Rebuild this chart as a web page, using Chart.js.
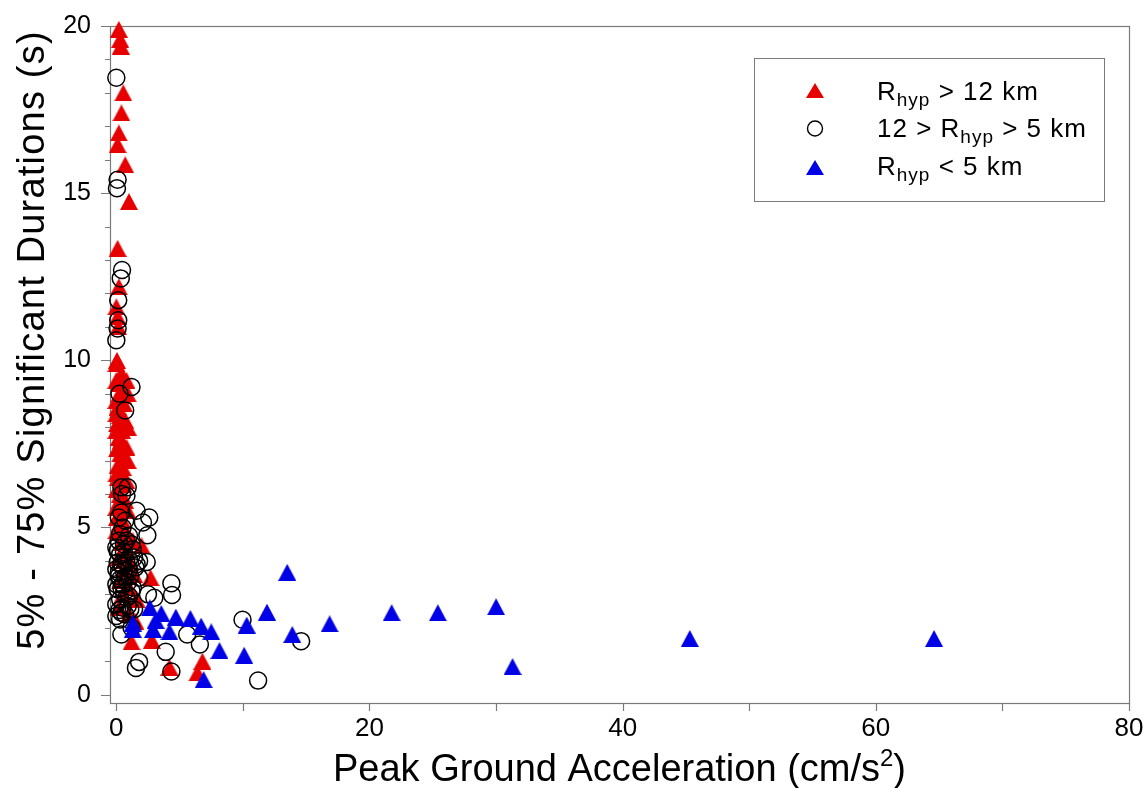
<!DOCTYPE html>
<html>
<head>
<meta charset="utf-8">
<script src="https://cdn.jsdelivr.net/npm/chart.js@4"></script>
<style>
  html, body { margin: 0; padding: 0; background: #fff; }
</style>
</head>
<body>
<canvas id="chart" width="1147" height="788"></canvas>
<script>
// Data
const farX  = [0.2, 0.3, 0.35, 0.55, 0.4, 0.2, 0.1, 0.7, 1.0, 0.1, 0.2, 0.0, 0.1, 0.15, 0.05, 0.4, 0.8, 0.2, 0.5, 0.6,
               0.1, 0.3, 0.05, 0.45, 0.2, 0.5, 0.05, 0.3, 0.6, 0.1, 0.35, 0.15, 0.55, 0.05, 0.3, 0.7, 0.15, 0.45, 0.05, 0.3,
               0.6, 0.1, 0.9, 0.4, 2.0, 0.8, 0.2, 1.1, 0.6, 1.4, 2.7, 0.3, 1.0, 0.5, 1.6, 0.2, 1.0, 1.5, 1.2, 2.8,
               4.2, 6.4, 6.8, 0.0, 0.25, 0.7, 0.0, 0.35, 0.8, 0.0, 0.5, 0.25, 0.0, 0.5, 0.0, 0.6, 1.3, 0.0,
               0.9, 0.9, 0.9, 0.8, 0.9, 0.0, 0.0];
const farY  = [19.9, 19.6, 19.4, 18.0, 17.4, 16.8, 16.45, 15.85, 14.75, 13.35, 12.2, 11.6, 11.3, 11.0, 10.0, 9.6, 9.4, 9.3, 8.95, 8.7,
               8.6, 8.35, 8.1, 7.9, 7.7, 7.5, 7.35, 7.2, 7.0, 6.85, 6.65, 6.5, 6.3, 6.15, 6.0, 5.8, 5.65, 5.5, 5.3, 5.15,
               5.0, 4.85, 4.7, 4.55, 4.45, 4.3, 4.1, 3.95, 3.75, 3.6, 3.5, 3.4, 3.2, 3.0, 2.85, 2.6, 2.4, 2.2, 1.58, 1.62,
               0.82, 0.65, 1.0, 9.9, 9.0, 8.2, 7.9, 7.6, 7.4, 6.6, 6.8, 5.8, 5.6, 5.2, 4.9, 4.0, 4.6, 8.4,
               9.0, 8.0, 7.0, 6.4, 5.5, 9.4, 8.8];

const midX  = [0.0, 0.1, 0.05, 0.45, 0.35, 0.15, 0.15, 0.1, 0.0, 1.2, 0.25, 0.7, 0.9, 0.4, 0.8, 1.6, 0.4, 2.1, 2.6, 2.45,
               0.5, 1.0, 0.2, 0.6, 0.0, 1.3, 0.3, 1.8, 2.4, 1.6, 0.1, 0.5, 1.0, 0.2, 1.8, 0.7, 4.35, 0.0, 0.4, 1.2,
               4.4, 2.5, 3.0, 0.8, 0.0, 0.5, 1.4, 0.24, 0.7, 0.3, 0.4, 1.2, 9.97, 14.6, 11.2, 6.6, 3.9, 5.6, 1.55, 1.8,
               4.35, 0.3, 0.8, 0.1, 0.6, 1.0, 0.4, 0.0, 0.6, 1.1, 0.3, 0.9, 0.1, 0.6, 1.0, 0.3, 0.9, 0.4, 0.0, 1.5,
               1.2, 0.7, 0.2, 0.45, 1.3, 1.4, 0.2, 0.8, 0.5, 1.1];
const midY  = [18.45, 15.4, 15.15, 12.7, 12.45, 11.8, 11.2, 10.95, 10.6, 9.2, 9.0, 8.5, 6.2, 6.2, 5.95, 5.5, 5.45, 5.15, 5.3, 4.77,
               5.0, 4.75, 4.6, 4.5, 4.4, 4.35, 4.2, 4.0, 3.97, 3.9, 3.95, 3.85, 3.75, 3.65, 3.5, 3.5, 3.33, 3.3, 3.2, 3.1,
               2.98, 3.0, 2.9, 2.9, 2.7, 2.6, 2.55, 2.53, 2.4, 2.25, 1.8, 2.0, 2.24, 1.6, 0.42, 1.5, 1.28, 1.8, 0.8, 0.98,
               0.69, 4.8, 4.6, 4.3, 4.25, 4.05, 3.9, 3.75, 3.7, 3.55, 3.45, 3.35, 3.15, 3.05, 2.95, 2.85, 2.65, 2.45, 2.35, 3.8,
               4.5, 5.2, 5.3, 6.0, 3.2, 4.1, 3.55, 3.95, 3.3, 2.55];

const nearX = [13.5, 11.9, 10.3, 16.85, 13.9, 10.1, 8.15, 6.9, 7.5, 6.7, 5.85, 4.7, 4.2, 3.55, 2.65, 2.9, 1.3, 1.3, 3.1,
               21.75, 25.4, 30.0, 31.3, 45.3, 64.6];
const nearY = [3.66, 2.47, 2.08, 2.12, 1.8, 1.18, 1.32, 0.45, 1.88, 2.05, 2.28, 2.32, 1.88, 2.43, 2.6, 1.95, 2.14, 1.95, 2.22,
               2.45, 2.45, 2.63, 0.84, 1.68, 1.68];

const xTicks = [0, 10, 20, 30, 40, 50, 60, 70, 80];
const yTicks = [0, 1, 2, 3, 4, 5, 6, 7, 8, 9, 10, 11, 12, 13, 14, 15, 16, 17, 18, 19, 20];

const RED = '#e60000';
const BLUE = '#0000e6';
const AXIS = '#7a7a7a';
const FONT = '"Liberation Sans", Arial, Helvetica, sans-serif';

function pts(xs, ys) {
    return xs.map((x, i) => ({ x: x, y: ys[i] }));
}

// triangle marker as a small canvas (a bit taller than equilateral, like the original)
function triMarker(color, w, h) {
    const c = document.createElement('canvas');
    c.width = w;
    c.height = h;
    const g = c.getContext('2d');
    g.fillStyle = color;
    g.beginPath();
    g.moveTo(w / 2, 0);
    g.lineTo(w, h);
    g.lineTo(0, h);
    g.closePath();
    g.fill();
    return c;
}

// axis frame + tick marks (minor y ticks shorter)
const frameTicks = {
    id: 'frameTicks',
    beforeDatasetsDraw(chart) {
        const { ctx, chartArea: a, scales: { x, y } } = chart;
        ctx.save();
        ctx.strokeStyle = AXIS;
        ctx.lineWidth = 1.2;
        ctx.strokeRect(a.left + 0.5, a.top + 0.5, a.right - a.left, a.bottom - a.top);
        ctx.beginPath();
        xTicks.forEach(v => {
            const px = Math.round(x.getPixelForValue(v)) + 0.5;
            ctx.moveTo(px, a.bottom);
            ctx.lineTo(px, a.bottom + 8);
        });
        yTicks.forEach(v => {
            const py = Math.round(y.getPixelForValue(v)) + 0.5;
            const len = v % 5 === 0 ? 9 : 5;
            ctx.moveTo(a.left, py);
            ctx.lineTo(a.left - len, py);
        });
        ctx.stroke();
        ctx.restore();
    }
};

// draws a run of [text, isSmall] pieces
function drawPieces(ctx, pieces, x, y, size, subSize, shift) {
    pieces.forEach(p => {
        ctx.font = (p[1] ? subSize : size) + 'px ' + FONT;
        ctx.fillText(p[0], x, p[1] ? y + shift : y);
        x += ctx.measureText(p[0]).width;
    });
    return x;
}

function piecesWidth(ctx, pieces, size, subSize) {
    let w = 0;
    pieces.forEach(p => {
        ctx.font = (p[1] ? subSize : size) + 'px ' + FONT;
        w += ctx.measureText(p[0]).width;
    });
    return w;
}

const titlesLegend = {
    id: 'titlesLegend',
    afterDraw(chart) {
        const { ctx, chartArea: a } = chart;
        ctx.save();
        ctx.fillStyle = '#000';
        ctx.textBaseline = 'alphabetic';

        // x title with superscript 2
        const xt = [['Peak Ground Acceleration (cm/s', 0], ['2', 1], [')', 0]];
        const xw = piecesWidth(ctx, xt, 38, 24);
        drawPieces(ctx, xt, (a.left + a.right) / 2 - xw / 2, 781, 38, 24, -15);

        // y title
        ctx.save();
        ctx.translate(44, 340);
        ctx.rotate(-Math.PI / 2);
        ctx.font = '38px ' + FONT;
        ctx.letterSpacing = '1.2px';
        ctx.textAlign = 'center';
        ctx.fillText('5% - 75% Significant Durations (s)', 0, 0);
        ctx.restore();

        // legend box
        ctx.fillStyle = '#fff';
        ctx.fillRect(754, 58, 350, 143);
        ctx.strokeStyle = AXIS;
        ctx.lineWidth = 1;
        ctx.strokeRect(754.5, 58.5, 350, 143);

        const rows = [
            { marker: 'tri', color: RED, pieces: [['R', 0], ['hyp', 1], [' > 12 km', 0]] },
            { marker: 'circ', color: '#000', pieces: [['12 > R', 0], ['hyp', 1], [' > 5 km', 0]] },
            { marker: 'tri', color: BLUE, pieces: [['R', 0], ['hyp', 1], [' < 5 km', 0]] }
        ];
        const base = [100, 137, 175];
        const mark = [91, 128.5, 168];
        ctx.letterSpacing = '1px';
        rows.forEach((r, i) => {
            const cy = mark[i];
            if (r.marker === 'tri') {
                ctx.fillStyle = r.color;
                ctx.beginPath();
                ctx.moveTo(815, cy - 8);
                ctx.lineTo(824, cy + 7);
                ctx.lineTo(806, cy + 7);
                ctx.closePath();
                ctx.fill();
            } else {
                ctx.strokeStyle = '#000';
                ctx.lineWidth = 1.4;
                ctx.beginPath();
                ctx.arc(815, cy, 7.5, 0, Math.PI * 2);
                ctx.stroke();
            }
            ctx.fillStyle = '#000';
            drawPieces(ctx, r.pieces, 877, base[i], 26, 19, 6);
        });
        ctx.restore();
    }
};

new Chart(document.getElementById('chart'), {
    type: 'scatter',
    data: {
        datasets: [
            {
                label: 'Rhyp < 5 km',
                data: pts(nearX, nearY),
                pointStyle: triMarker(BLUE, 18, 17),
                pointRadius: 9,
                pointHoverRadius: 9,
                backgroundColor: BLUE,
                borderColor: BLUE,
                clip: false,
                order: 0
            },
            {
                label: '12 > Rhyp > 5 km',
                data: pts(midX, midY),
                pointStyle: 'circle',
                pointRadius: 8.5,
                pointHoverRadius: 8.5,
                backgroundColor: 'rgba(0,0,0,0)',
                borderColor: '#000',
                borderWidth: 1.5,
                clip: false,
                order: 1
            },
            {
                label: 'Rhyp > 12 km',
                data: pts(farX, farY),
                pointStyle: triMarker(RED, 18, 17),
                pointRadius: 9,
                pointHoverRadius: 9,
                backgroundColor: RED,
                borderColor: RED,
                clip: false,
                order: 2
            }
        ]
    },
    options: {
        responsive: false,
        animation: false,
        devicePixelRatio: 1,
        layout: { padding: { left: 0, top: 24, right: 18, bottom: 0 } },
        plugins: {
            legend: { display: false },
            tooltip: { enabled: false }
        },
        scales: {
            x: {
                type: 'linear',
                min: -0.5,
                max: 80,
                afterBuildTicks: s => { s.ticks = xTicks.map(v => ({ value: v })); },
                afterFit: s => { s.height = 85; },
                grid: { display: false },
                border: { display: false },
                ticks: {
                    autoSkip: false,
                    maxRotation: 0,
                    padding: 2,
                    color: '#000',
                    font: { family: FONT, size: 26 },
                    callback: v => (v % 20 === 0 ? v : '')
                }
            },
            y: {
                type: 'linear',
                min: -0.25,
                max: 20,
                afterBuildTicks: s => { s.ticks = yTicks.map(v => ({ value: v })); },
                afterFit: s => { s.width = 110; },
                grid: { display: false },
                border: { display: false },
                ticks: {
                    autoSkip: false,
                    padding: 11,
                    color: '#000',
                    font: { family: FONT, size: 25 },
                    callback: v => (v % 5 === 0 ? v : '')
                }
            }
        }
    },
    plugins: [frameTicks, titlesLegend]
});
</script>
</body>
</html>
